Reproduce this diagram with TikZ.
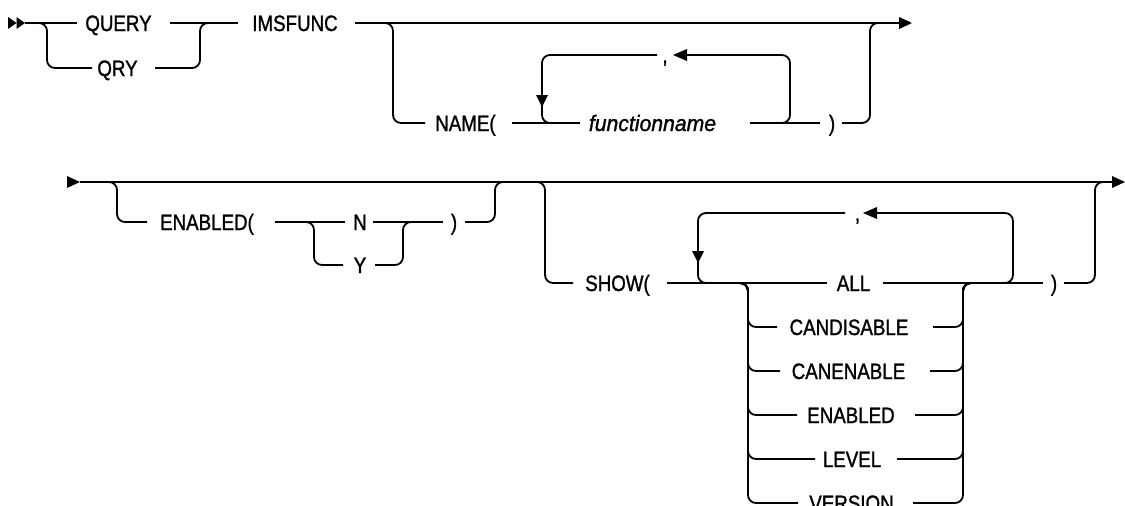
\documentclass[tikz,border=0pt]{standalone}
\usepackage{fontspec}
\setmainfont{Liberation Sans}
\newfontfamily\lblfont{Liberation Sans}[FakeStretch=0.84, FakeBold=1.2]
\newfontfamily\itfont{Liberation Sans Italic}[FakeStretch=0.95, FakeBold=1.2]
\begin{document}
\begin{tikzpicture}[x=1pt,y=-1pt,
  rail/.style={line width=1.8pt, rounded corners=8pt},
  lbl/.style={font=\lblfont\fontsize{22.3}{24}\selectfont, inner sep=0pt, anchor=base},
  ital/.style={font=\itfont\fontsize{22.3}{24}\selectfont, inner sep=0pt, anchor=base},
  head/.style={fill=black, draw=none}]
\clip (0,0) rectangle (1125,506);
\fill[white] (0,0) rectangle (1125,506);

% ---------- row 1 ----------
\fill[head] (8,17) -- (16.5,23) -- (8,29) -- cycle;
\fill[head] (16.5,17) -- (25,23) -- (16.5,29) -- cycle;
\node[lbl] (query) at (118.5,31) {QUERY};
\node[lbl] (qry) at (117.5,76) {QRY};
\node[lbl] (imsfunc) at (295,31) {IMSFUNC};
\node[lbl] (name) at (465.5,131) {NAME(};
\node[ital] (fname) at (652.5,131) {functionname};
\node[lbl] (comma1) at (665,63) {,};
\node[lbl] (rpar1) at (832,131) {)};

\draw[rail] (25,23) -- (77,23);
\draw[rail] (170,23) -- (238,23);
\draw[rail] (355,23) -- (899,23);
\fill[head] (899,17) -- (912,23) -- (899,29) -- cycle;
\draw[rail] (39,23) -- (47,23) -- (47,68) -- (92,68);
\draw[rail] (155,68) -- (200,68) -- (200,23) -- (208,23);
\draw[rail] (385,23) -- (393,23) -- (393,123) -- (425,123);
\draw[rail] (512,123) -- (580,123);
\draw[rail] (750,123) -- (820,123);
\draw[rail] (842,123) -- (870,123) -- (870,23) -- (878,23);
\draw[rail] (657,55) -- (542,55) -- (542,123) -- (552,123);
\fill[head] (536,95) -- (548,95) -- (542,107) -- cycle;
\draw[rail] (775,123) -- (790,123) -- (790,55) -- (687,55);
\fill[head] (687,49) -- (673,55) -- (687,61) -- cycle;

% ---------- row 2 ----------
\fill[head] (67,176) -- (80,182) -- (67,188) -- cycle;
\draw[rail] (80,182) -- (1112,182);
\fill[head] (1112,176) -- (1125,182) -- (1112,188) -- cycle;

\node[lbl] (enabled) at (207,230) {ENABLED(};
\node[lbl] (n) at (360,230) {N};
\node[lbl] (y) at (360,273) {Y};
\node[lbl] (rpar2) at (454,230) {)};
\draw[rail] (109,182) -- (117,182) -- (117,222) -- (147,222);
\draw[rail] (275,222) -- (345,222);
\draw[rail] (306,222) -- (314,222) -- (314,265) -- (343,265);
\draw[rail] (373,222) -- (443,222);
\draw[rail] (375,265) -- (403,265) -- (403,222) -- (411,222);
\draw[rail] (465,222) -- (495,222) -- (495,182) -- (503,182);

\node[lbl] (show) at (617.5,291) {SHOW(};
\node[lbl] (comma2) at (857.5,221) {,};
\node[lbl] (all) at (853.5,291) {ALL};
\node[lbl] (rpar3) at (1054,291) {)};
\draw[rail] (537,182) -- (545,182) -- (545,283) -- (573,283);
\draw[rail] (667,283) -- (827,283);
\draw[rail] (883,283) -- (1043,283);
\draw[rail] (1064,283) -- (1095,283) -- (1095,182) -- (1103,182);
\draw[rail] (845,213) -- (698,213) -- (698,283) -- (708,283);
\fill[head] (692,251) -- (704,251) -- (698,263) -- cycle;
\draw[rail] (1000,283) -- (1013,283) -- (1013,213) -- (877,213);
\fill[head] (877,207) -- (863,213) -- (877,219) -- cycle;

\foreach \yy/\xl/\xr/\cx/\txt/\nm in {327/777/933/849/CANDISABLE/cdis,
    371/780/930/848.5/CANENABLE/cena, 415/797/915/851/ENABLED/ena,
    459/815/897/852/LEVEL/lev, 503/798/913/851.5/VERSION/ver}{
  \node[lbl] (\nm) at (\cx,\yy+8) {\txt};
  \draw[rail] (740,283) -- (748,283) -- (748,\yy) -- (\xl,\yy);
  \draw[rail] (\xr,\yy) -- (963,\yy) -- (963,283) -- (971,283);
}
\end{tikzpicture}
\end{document}
